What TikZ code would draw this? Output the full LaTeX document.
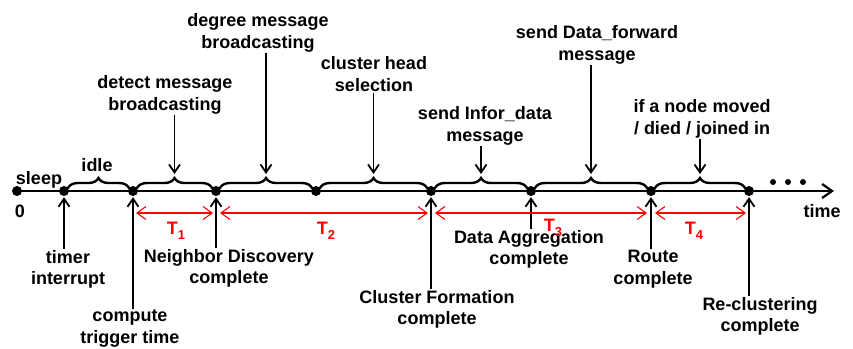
\documentclass[tikz,border=0pt]{standalone}
\usepackage{fontspec}
\setmainfont{Liberation Sans}
\usetikzlibrary{arrows.meta,decorations.pathreplacing,calc}
\begin{document}
\begin{tikzpicture}[x=1pt,y=-1pt,
  txt/.style={font=\bfseries\fontsize{18}{21.5}\selectfont, align=center, inner sep=1pt},
  tlab/.style={font=\bfseries\fontsize{18}{21}\selectfont, text=red, inner sep=1pt},
  dot/.style={circle, fill=black, minimum size=10pt, inner sep=0pt},
  sdot/.style={circle, fill=black, minimum size=6pt, inner sep=0pt},
  brc/.style={decorate, decoration={brace, amplitude=10pt}, line width=2.4pt, line cap=round},
  arr/.style={line width=1.8pt, -{Straight Barb[length=8pt,width=11pt]}},
  span/.style={draw=red, line width=1.1pt, {Straight Barb[length=9pt,width=13pt]}-{Straight Barb[length=9pt,width=13pt]}},
  axis/.style={line width=2.2pt, -{Straight Barb[length=10pt,width=14pt]}}]
\useasboundingbox (0,0) rectangle (853,348);

% timeline
\coordinate (tend) at (834,191);
\node[dot] (d0) at (17,191) {};
\node[dot] (d1) at (64,191) {};
\node[dot] (d2) at (133,191) {};
\node[dot] (d3) at (216,191) {};
\node[dot] (d4) at (316,191) {};
\node[dot] (d5) at (431,191) {};
\node[dot] (d6) at (531,191) {};
\node[dot] (d7) at (651,191) {};
\node[dot] (d8) at (749,191) {};
\draw[axis] (d0.center) -- (tend);

% ellipsis dots
\node[sdot] (e1) at (773,182) {};
\node[sdot] (e2) at (788,182) {};
\node[sdot] (e3) at (803,182) {};

% simple labels
\node[txt] (sleep) at (39,180) {sleep};
\node[txt] (zero) at (20,211) {0};
\node[txt] (time) at (822,211) {time};
\node[txt] (idle) at (97,165) {idle};

% braces
\foreach \a/\b/\n in {d1/d2/b1,d2/d3/b2,d3/d4/b3,d4/d5/b4,d5/d6/b5,d6/d7/b6,d7/d8/b7}{
  \draw[brc] ($(\a)+(4,-3)$) -- ($(\b)+(-4,-3)$);
  \coordinate (\n) at ($(\a)!0.5!(\b)+(0,-17)$);
}

% top labels
\node[txt] (detect) at (165,95) {detect message\\broadcasting};
\node[txt] (degree) at (258,33) {degree message\\broadcasting};
\node[txt] (chsel) at (374,74) {cluster head\\selection};
\node[txt] (infor) at (485,126) {send Infor\_data\\message};
\node[txt] (dfwd) at (597,45) {send Data\_forward\\message};
\node[txt] (moved) at (702,119) {if a node moved\\/ died / joined in};

\draw[arr] (detect.south -| b2) -- (b2);
\draw[arr] (degree.south -| b3) -- (b3);
\draw[arr] (chsel.south -| b4) -- (b4);
\draw[arr] (infor.south -| b5) -- (b5);
\draw[arr] (dfwd.south -| b6) -- (b6);
\draw[arr] (moved.south -| b7) -- (b7);

% bottom labels
\node[txt, anchor=north] (timer) at (68,249) {timer\\interrupt};
\node[txt, anchor=north] (compute) at (130,309) {compute\\trigger time};
\node[txt, anchor=north] (nd) at (229,248) {Neighbor Discovery\\complete};
\node[txt, anchor=north] (cf) at (437,289) {Cluster Formation\\complete};
\node[txt, anchor=north] (da) at (529,229) {Data Aggregation\\complete};
\node[txt, anchor=north] (rc) at (653,249) {Route\\complete};
\node[txt, anchor=north] (rcl) at (760,296) {Re-clustering\\complete};

\draw[arr] (timer.north -| d1) -- ($(d1.south)+(0,1)$);
\draw[arr] (compute.north -| d2) -- ($(d2.south)+(0,1)$);
\draw[arr] (nd.north -| d3) -- ($(d3.south)+(0,1)$);
\draw[arr] (cf.north -| d5) -- ($(d5.south)+(0,1)$);
\draw[arr] (da.north -| d6) -- ($(d6.south)+(0,1)$);
\draw[arr] (rc.north -| d7) -- ($(d7.south)+(0,1)$);
\draw[arr] (rcl.north -| d8) -- ($(d8.south)+(0,1)$);

% red spans
\coordinate (s1a) at (136,213); \coordinate (s1b) at (213,213);
\coordinate (s2a) at (220,213); \coordinate (s2b) at (428,213);
\coordinate (s3a) at (435,213); \coordinate (s3b) at (647,213);
\coordinate (s4a) at (655,213); \coordinate (s4b) at (746,213);
\draw[span] (s1a) -- (s1b);
\draw[span] (s2a) -- (s2b);
\draw[span] (s3a) -- (s3b);
\draw[span] (s4a) -- (s4b);
\node[tlab] (t1) at (176,231) {T\raisebox{-0.55ex}{\fontsize{13}{13}\selectfont 1}};
\node[tlab] (t2) at (326,231) {T\raisebox{-0.55ex}{\fontsize{13}{13}\selectfont 2}};
\node[tlab] (t3) at (553,228) {T\raisebox{-0.55ex}{\fontsize{13}{13}\selectfont 3}};
\node[tlab] (t4) at (694,231) {T\raisebox{-0.55ex}{\fontsize{13}{13}\selectfont 4}};
\end{tikzpicture}
\end{document}
